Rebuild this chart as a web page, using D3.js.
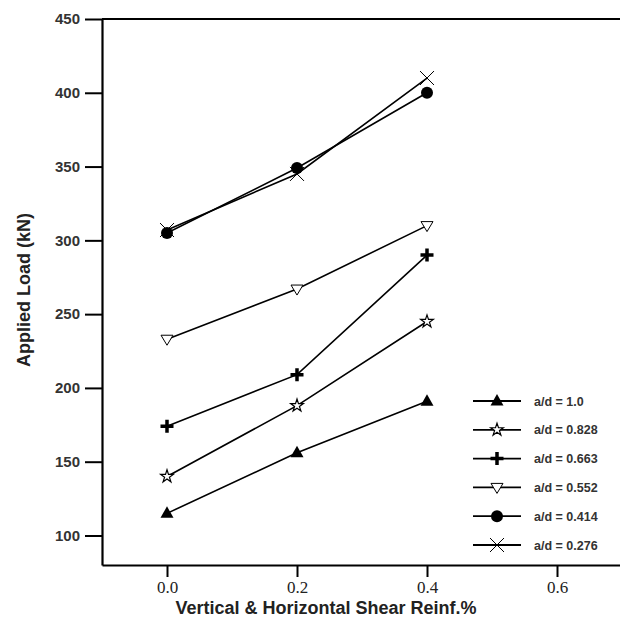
<!DOCTYPE html>
<html>
<head>
<meta charset="utf-8">
<script src="https://cdn.jsdelivr.net/npm/d3@7"></script>
<style>
  body { margin: 0; background: #fff; }
  svg { display: block; }
</style>
</head>
<body>
<div id="chart"></div>
<script>
// shear reinforcement ratios (x) and loads per a/d ratio
const reinf = [0.0, 0.2, 0.4];
const seriesNames = ["a/d = 1.0", "a/d = 0.828", "a/d = 0.663", "a/d = 0.552", "a/d = 0.414", "a/d = 0.276"];
const load_10   = [115, 156, 191];
const load_0828 = [140, 188, 245];
const load_0663 = [174, 209, 290];
const load_0552 = [233, 267, 310];
const load_0414 = [305, 349, 400];
const load_0276 = [307, 345, 410];
const markers = ["triUp", "star", "plus", "triDown", "circle", "cross"];
const xTicks = [0.0, 0.2, 0.4, 0.6];
const yTicks = [100, 150, 200, 250, 300, 350, 400, 450];

const allLoads = [load_10, load_0828, load_0663, load_0552, load_0414, load_0276];

const W = 620, H = 628;
const margin = {top: 19, right: -2, bottom: 63, left: 102};

const svg = d3.select("#chart").append("svg")
    .attr("width", W)
    .attr("height", H);

const x = d3.scaleLinear().domain([-0.1, 0.7]).range([margin.left, W - margin.right]);
const y = d3.scaleLinear().domain([80, 450]).range([H - margin.bottom, margin.top]);

// axes
const yAxis = svg.append("g")
    .attr("transform", "translate(" + margin.left + ",0)")
    .call(d3.axisLeft(y).tickValues(yTicks).tickSize(17).tickSizeOuter(0).tickPadding(5));
yAxis.select(".domain").attr("stroke-width", 2.2);
yAxis.selectAll(".tick line").attr("stroke-width", 2);
yAxis.selectAll(".tick text")
    .style("font-family", "Liberation Sans, Arial, sans-serif")
    .style("font-weight", "bold")
    .style("font-size", "15px")
    .attr("fill", "#333");

const xAxis = svg.append("g")
    .attr("transform", "translate(0," + (H - margin.bottom) + ")")
    .call(d3.axisBottom(x).tickValues(xTicks).tickFormat(d3.format(".1f")).tickSize(12).tickSizeOuter(0).tickPadding(4));
xAxis.select(".domain").attr("stroke-width", 2.2);
xAxis.selectAll(".tick line").attr("stroke-width", 2);
xAxis.selectAll(".tick text")
    .style("font-family", "Liberation Serif, Times New Roman, serif")
    .style("font-size", "17px")
    .attr("fill", "#222");

// top frame line
svg.append("line")
    .attr("x1", x(-0.1)).attr("x2", W)
    .attr("y1", y(450)).attr("y2", y(450))
    .attr("stroke", "#000").attr("stroke-width", 2.2);

// axis titles
svg.append("text")
    .attr("x", 326)
    .attr("y", H - 14)
    .attr("text-anchor", "middle")
    .style("font-family", "Liberation Sans, Arial, sans-serif")
    .style("font-weight", "bold")
    .style("font-size", "18px")
    .attr("fill", "#222")
    .text("Vertical & Horizontal Shear Reinf.%");

svg.append("text")
    .attr("transform", "translate(30," + 290 + ") rotate(-90)")
    .attr("text-anchor", "middle")
    .style("font-family", "Liberation Sans, Arial, sans-serif")
    .style("font-weight", "bold")
    .style("font-size", "18px")
    .attr("fill", "#222")
    .text("Applied Load (kN)");

// marker drawing
function drawMarker(g, type) {
  if (type === "triUp") {
    g.append("path").attr("d", "M0,-7L6.5,4.5L-6.5,4.5Z").attr("fill", "#000");
  } else if (type === "triDown") {
    g.append("path").attr("d", "M-6,-4L6,-4L0,6Z").attr("fill", "#fff").attr("stroke", "#000").attr("stroke-width", 1);
  } else if (type === "star") {
    g.append("path").attr("d", d3.symbol(d3.symbolStar, 50)()).attr("fill", "#fff").attr("stroke", "#000").attr("stroke-width", 1.2);
  } else if (type === "plus") {
    g.append("path").attr("d", "M-6.5,0H6.5M0,-6.5V6.5").attr("stroke", "#000").attr("stroke-width", 3.5).attr("fill", "none");
  } else if (type === "circle") {
    g.append("circle").attr("r", 6).attr("fill", "#000");
  } else if (type === "cross") {
    g.append("path").attr("d", "M-7,-7L7,7M7,-7L-7,7").attr("stroke", "#000").attr("stroke-width", 1).attr("fill", "none");
  }
}

const line = d3.line().x((d, i) => x(reinf[i])).y(d => y(d));

allLoads.forEach((vals, s) => {
  svg.append("path")
      .datum(vals)
      .attr("d", line)
      .attr("fill", "none")
      .attr("stroke", "#000")
      .attr("stroke-width", 1.6);
});

allLoads.forEach((vals, s) => {
  vals.forEach((v, i) => {
    const g = svg.append("g").attr("transform", "translate(" + x(reinf[i]) + "," + y(v) + ")");
    drawMarker(g, markers[s]);
  });
});

// legend
const legend = svg.append("g");
seriesNames.forEach((name, i) => {
  const ly = 401 + i * 28.8;
  legend.append("line")
      .attr("x1", 473).attr("x2", 521)
      .attr("y1", ly).attr("y2", ly)
      .attr("stroke", "#000").attr("stroke-width", 1.8);
  const g = legend.append("g").attr("transform", "translate(497," + ly + ")");
  drawMarker(g, markers[i]);
  legend.append("text")
      .attr("x", 534).attr("y", ly + 4.5)
      .style("font-family", "Liberation Sans, Arial, sans-serif")
      .style("font-weight", "bold")
      .style("font-size", "12.5px")
      .attr("fill", "#333")
      .text(name);
});
</script>
</body>
</html>
